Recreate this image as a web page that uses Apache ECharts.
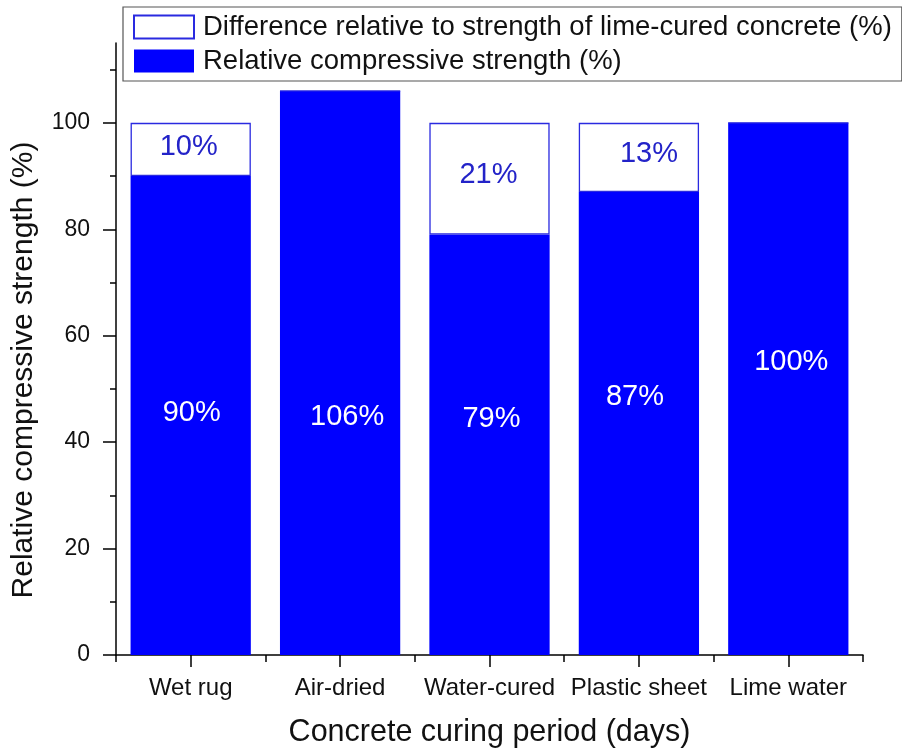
<!DOCTYPE html>
<html>
<head>
<meta charset="utf-8">
<script src="https://cdn.jsdelivr.net/npm/echarts@6/dist/echarts.min.js"></script>
<style>html,body{margin:0;padding:0;background:#fff;}#c{width:902px;height:753px;}</style>
</head>
<body>
<div id="c"></div>
<script>
const categories = ['Wet rug', 'Air-dried', 'Water-cured', 'Plastic sheet', 'Lime water'];
const strength = [90, 106, 79, 87, 100];
const difference = [10, 0, 21, 13, 0];
const yTicks = [0, 20, 40, 60, 80, 100];

// label style offsets (styling only)
const strengthLabelOffsets = [[1, -3], [7, 44], [2, -26], [-4, -27], [3, -27]];
const diffLabelOffsets = [[-2, -2], [0, 0], [-1, -4], [10, -3], [0, 0]];

const FONT = '"Liberation Sans", Arial, sans-serif';
const chart = echarts.init(document.getElementById('c'));

const strengthData = strength.map((v, i) => ({
  value: v,
  label: { offset: strengthLabelOffsets[i] }
}));
const diffData = difference.map((v, i) => ({
  value: v,
  label: { show: v > 0, offset: diffLabelOffsets[i] }
}));
const centerTicks = categories.map((_, i) => i);

chart.setOption({
  animation: false,
  backgroundColor: '#fff',
  textStyle: { fontFamily: FONT },
  grid: { left: 116, right: 39, top: 43, bottom: 96 },
  legend: {
    orient: 'vertical',
    left: 123, top: 7,
    data: ['Difference relative to strength of lime-cured concrete (%)', 'Relative compressive strength (%)'],
    itemWidth: 60, itemHeight: 23, itemGap: 6,
    icon: 'rect',
    padding: [6, 10, 6, 10],
    borderColor: '#555', borderWidth: 1.2,
    textStyle: { fontSize: 27.5, lineHeight: 23, color: '#111', fontFamily: FONT, padding: [0, 0, 0, 4] }
  },
  xAxis: [{
    type: 'category',
    data: categories,
    axisLine: { onZero: false, lineStyle: { color: '#000', width: 1.5 } },
    axisTick: { show: true, interval: 0, length: 7, lineStyle: { color: '#000', width: 1.5 } },
    axisLabel: { interval: 0, fontSize: 24, color: '#111', margin: 21, fontFamily: FONT },
    name: 'Concrete curing period (days)',
    nameLocation: 'middle', nameGap: 62,
    nameTextStyle: { fontSize: 30.5, color: '#111', fontFamily: FONT }
  }, {
    type: 'value',
    position: 'bottom',
    min: -0.5, max: 4.5,
    axisLine: { show: false, onZero: false },
    splitLine: { show: false },
    axisTick: { show: true, length: 12, customValues: centerTicks, lineStyle: { color: '#000', width: 1.5 } },
    axisLabel: { show: false }
  }],
  yAxis: {
    type: 'value',
    min: 0, max: 115, interval: 20,
    axisLine: { show: true, onZero: false, lineStyle: { color: '#000', width: 1.5 } },
    axisTick: { show: true, length: 13, customValues: yTicks, lineStyle: { color: '#000', width: 1.5 } },
    minorTick: { show: true, splitNumber: 2, length: 6, lineStyle: { color: '#000', width: 1.5 } },
    splitLine: { show: false },
    axisLabel: {
      fontSize: 23, color: '#111', margin: 26, fontFamily: FONT,
      customValues: yTicks
    },
    name: 'Relative compressive strength (%)',
    nameLocation: 'middle', nameGap: 77,
    nameTextStyle: { fontSize: 30, color: '#111', fontFamily: FONT, padding: [0, 42, 0, 0] }
  },
  series: [{
    name: 'Relative compressive strength (%)',
    type: 'bar', stack: 's',
    xAxisIndex: 0,
    barCategoryGap: '19.5%',
    data: strengthData,
    itemStyle: { color: '#0000ff' },
    label: {
      show: true, position: 'inside', color: '#fff', fontSize: 29, fontFamily: FONT,
      formatter: p => p.value + '%'
    }
  }, {
    name: 'Difference relative to strength of lime-cured concrete (%)',
    type: 'bar', stack: 's',
    xAxisIndex: 0,
    data: diffData,
    itemStyle: { color: '#fff', borderColor: '#2a2ae0', borderWidth: 1.3 },
    label: {
      position: 'inside', color: '#2323c8', fontSize: 29, fontFamily: FONT,
      formatter: p => p.value + '%'
    }
  }]
});
</script>
</body>
</html>
